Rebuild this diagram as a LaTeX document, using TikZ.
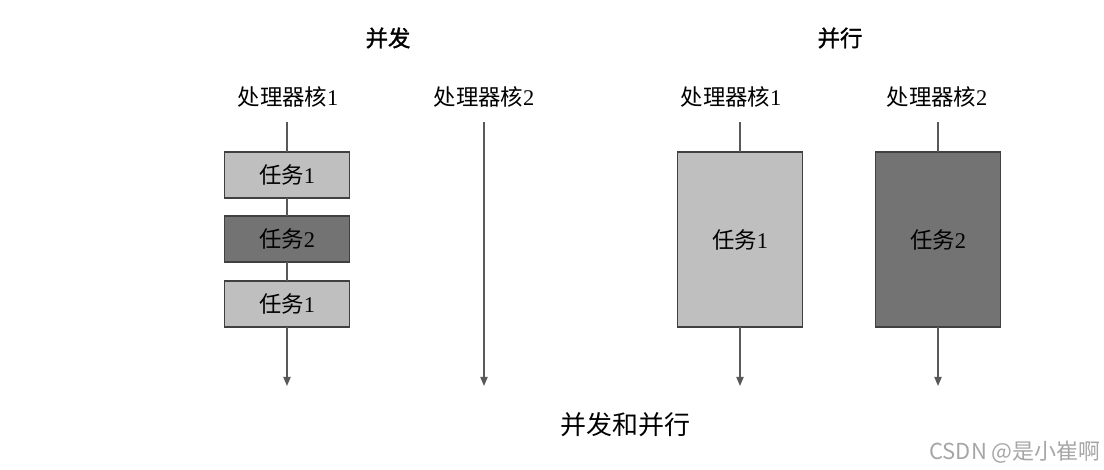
\documentclass[tikz,border=0pt]{standalone}
\usepackage{fontspec}
\setmainfont{Liberation Serif}
\newfontfamily\cjk{Noto Sans CJK SC}
\newfontfamily\cjkbf[FakeBold=1.5]{Noto Sans CJK SC}
\usepackage{tikz}
\usetikzlibrary{arrows.meta,positioning}

\begin{document}
\begin{tikzpicture}[
        x=0.5pt, y=-0.5pt,
        font=\fontsize{11.2}{13}\selectfont,
        core/.style={inner sep=0pt, minimum height=25pt, anchor=center},
        task/.style={draw=black!75, line width=0.6pt, minimum width=62.5pt, minimum height=23pt, inner sep=0pt, outer sep=0pt},
        light/.style={task, fill=black!25},
        dark/.style={task, fill=black!55},
        tall/.style={minimum height=87.5pt},
        line/.style={draw=black!65, line width=0.6pt},
        arrow/.style={line, -{Triangle[length=4.5pt, width=3.6pt]}}
    ]
        \useasboundingbox (0,0) rectangle (1104,470);

        % titles
        \node (titleA) at (388,38) {\cjkbf 并发};
        \node (titleB) at (840,38) {\cjkbf 并行};

        % concurrent: one core runs both tasks in turn
        \node[core] (coreA1) at (288,97) {{\cjk 处理器核}1};
        \node[core] (coreA2) at (484,97) {{\cjk 处理器核}2};
        \node[light] (taskA1) at (287,175) {{\cjk 任务}1};
        \node[dark]  (taskA2) at (287,239) {{\cjk 任务}2};
        \node[light] (taskA3) at (287,304) {{\cjk 任务}1};
        \coordinate (endA1) at (287,386);
        \coordinate (endA2) at (484,386);

        \draw[line] (coreA1.south -| taskA1) -- (taskA1);
        \draw[line] (taskA1) -- (taskA2);
        \draw[line] (taskA2) -- (taskA3);
        \draw[arrow] (taskA3) -- (endA1);
        \draw[arrow] (coreA2) -- (endA2);

        % parallel: each core runs its own task
        \node[core] (coreB1) at (731,97) {{\cjk 处理器核}1};
        \node[core] (coreB2) at (937,97) {{\cjk 处理器核}2};
        \node[light, tall] (taskB1) at (740,239.5) {{\cjk 任务}1};
        \node[dark, tall]  (taskB2) at (938,239.5) {{\cjk 任务}2};
        \coordinate (endB1) at (740,386);
        \coordinate (endB2) at (938,386);

        \draw[line] (coreB1.south -| taskB1) -- (taskB1);
        \draw[line] (coreB2.south -| taskB2) -- (taskB2);
        \draw[arrow] (taskB1) -- (endB1);
        \draw[arrow] (taskB2) -- (endB2);

        % caption and mark
        \node[font=\fontsize{13}{15}\selectfont] (caption) at (625,425) {\cjk 并发和并行};
        \node[text=black!35, font=\fontsize{11}{13}\selectfont] (mark) at (1015,452) {\cjk CSDN @是小崔啊};
\end{tikzpicture}
\end{document}
